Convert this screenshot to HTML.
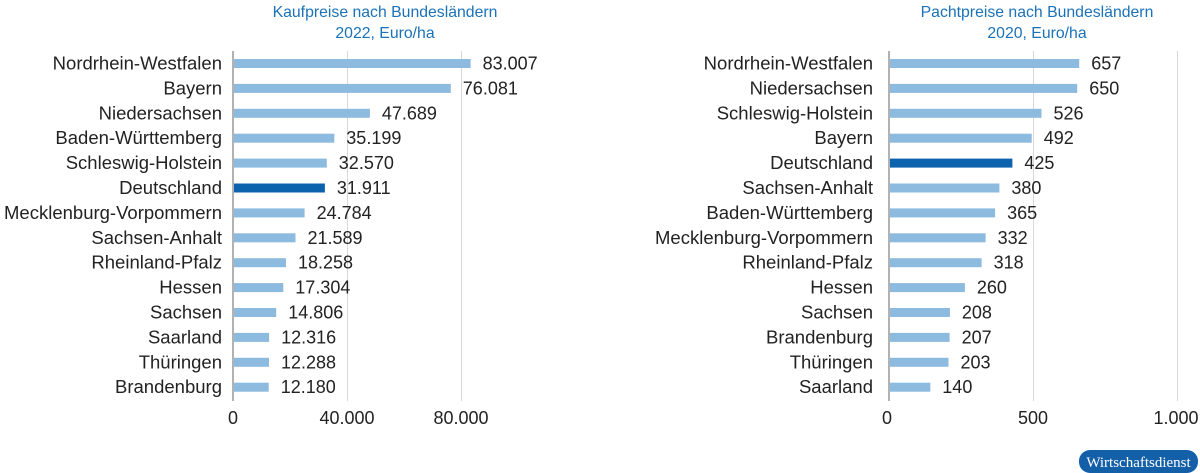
<!DOCTYPE html>
<html><head><meta charset="utf-8"><style>
body{margin:0;background:#fff}
svg{display:block;font-family:"Liberation Sans",sans-serif}
.t{fill:#1a72b8;font-size:15.8px;text-anchor:middle}
.l{fill:#222;font-size:18.5px;text-anchor:end}
.v{fill:#222;font-size:18px}
.x{fill:#222;font-size:18px;text-anchor:middle}
.b{fill:#8dbadf}.d{fill:#0d62ad}
</style></head><body>
<svg width="1200" height="473" viewBox="0 0 1200 473">
<text class="t" x="385" y="17">Kaufpreise nach Bundesländern</text>
<text class="t" x="385" y="38">2022, Euro/ha</text>
<text class="t" x="1037" y="17">Pachtpreise nach Bundesländern</text>
<text class="t" x="1037" y="38">2020, Euro/ha</text>
<g stroke="#d8d8d8" stroke-width="1">
<line x1="347.5" y1="51" x2="347.5" y2="401"/><line x1="461.5" y1="51" x2="461.5" y2="401"/>
<line x1="1033.5" y1="51" x2="1033.5" y2="401"/><line x1="1177.5" y1="51" x2="1177.5" y2="401"/>
</g>
<g stroke="#999" stroke-width="1.5">
<line x1="233" y1="51" x2="233" y2="401"/><line x1="889" y1="51" x2="889" y2="401"/>
</g>
<g>
<text class="l" x="222" y="69.5">Nordrhein-Westfalen</text><rect class="b" x="234" y="59" width="236.6" height="9"/><text class="v" x="482.6" y="69.5">83.007</text>
<text class="l" x="222" y="94.4">Bayern</text><rect class="b" x="234" y="83.9" width="216.8" height="9"/><text class="v" x="462.8" y="94.4">76.081</text>
<text class="l" x="222" y="119.3">Niedersachsen</text><rect class="b" x="234" y="108.8" width="135.9" height="9"/><text class="v" x="381.9" y="119.3">47.689</text>
<text class="l" x="222" y="144.2">Baden-Württemberg</text><rect class="b" x="234" y="133.7" width="100.3" height="9"/><text class="v" x="346.3" y="144.2">35.199</text>
<text class="l" x="222" y="169.1">Schleswig-Holstein</text><rect class="b" x="234" y="158.6" width="92.8" height="9"/><text class="v" x="338.8" y="169.1">32.570</text>
<text class="l" x="222" y="194">Deutschland</text><rect class="d" x="234" y="183.5" width="90.9" height="9"/><text class="v" x="336.9" y="194">31.911</text>
<text class="l" x="222" y="218.9">Mecklenburg-Vorpommern</text><rect class="b" x="234" y="208.4" width="70.6" height="9"/><text class="v" x="316.6" y="218.9">24.784</text>
<text class="l" x="222" y="243.8">Sachsen-Anhalt</text><rect class="b" x="234" y="233.3" width="61.5" height="9"/><text class="v" x="307.5" y="243.8">21.589</text>
<text class="l" x="222" y="268.7">Rheinland-Pfalz</text><rect class="b" x="234" y="258.2" width="52" height="9"/><text class="v" x="298" y="268.7">18.258</text>
<text class="l" x="222" y="293.6">Hessen</text><rect class="b" x="234" y="283.1" width="49.3" height="9"/><text class="v" x="295.3" y="293.6">17.304</text>
<text class="l" x="222" y="318.5">Sachsen</text><rect class="b" x="234" y="308" width="42.2" height="9"/><text class="v" x="288.2" y="318.5">14.806</text>
<text class="l" x="222" y="343.4">Saarland</text><rect class="b" x="234" y="332.9" width="35.1" height="9"/><text class="v" x="281.1" y="343.4">12.316</text>
<text class="l" x="222" y="368.3">Thüringen</text><rect class="b" x="234" y="357.8" width="35" height="9"/><text class="v" x="281" y="368.3">12.288</text>
<text class="l" x="222" y="393.2">Brandenburg</text><rect class="b" x="234" y="382.7" width="34.7" height="9"/><text class="v" x="280.7" y="393.2">12.180</text>
</g>
<g>
<text class="l" x="873" y="69.5">Nordrhein-Westfalen</text><rect class="b" x="890" y="59" width="189.2" height="9"/><text class="v" x="1091.2" y="69.5">657</text>
<text class="l" x="873" y="94.4">Niedersachsen</text><rect class="b" x="890" y="83.9" width="187.2" height="9"/><text class="v" x="1089.2" y="94.4">650</text>
<text class="l" x="873" y="119.3">Schleswig-Holstein</text><rect class="b" x="890" y="108.8" width="151.5" height="9"/><text class="v" x="1053.5" y="119.3">526</text>
<text class="l" x="873" y="144.2">Bayern</text><rect class="b" x="890" y="133.7" width="141.7" height="9"/><text class="v" x="1043.7" y="144.2">492</text>
<text class="l" x="873" y="169.1">Deutschland</text><rect class="d" x="890" y="158.6" width="122.4" height="9"/><text class="v" x="1024.4" y="169.1">425</text>
<text class="l" x="873" y="194">Sachsen-Anhalt</text><rect class="b" x="890" y="183.5" width="109.4" height="9"/><text class="v" x="1011.4" y="194">380</text>
<text class="l" x="873" y="218.9">Baden-Württemberg</text><rect class="b" x="890" y="208.4" width="105.1" height="9"/><text class="v" x="1007.1" y="218.9">365</text>
<text class="l" x="873" y="243.8">Mecklenburg-Vorpommern</text><rect class="b" x="890" y="233.3" width="95.6" height="9"/><text class="v" x="997.6" y="243.8">332</text>
<text class="l" x="873" y="268.7">Rheinland-Pfalz</text><rect class="b" x="890" y="258.2" width="91.6" height="9"/><text class="v" x="993.6" y="268.7">318</text>
<text class="l" x="873" y="293.6">Hessen</text><rect class="b" x="890" y="283.1" width="74.9" height="9"/><text class="v" x="976.9" y="293.6">260</text>
<text class="l" x="873" y="318.5">Sachsen</text><rect class="b" x="890" y="308" width="59.9" height="9"/><text class="v" x="961.9" y="318.5">208</text>
<text class="l" x="873" y="343.4">Brandenburg</text><rect class="b" x="890" y="332.9" width="59.6" height="9"/><text class="v" x="961.6" y="343.4">207</text>
<text class="l" x="873" y="368.3">Thüringen</text><rect class="b" x="890" y="357.8" width="58.5" height="9"/><text class="v" x="960.5" y="368.3">203</text>
<text class="l" x="873" y="393.2">Saarland</text><rect class="b" x="890" y="382.7" width="40.3" height="9"/><text class="v" x="942.3" y="393.2">140</text>
</g>
<text class="x" x="233" y="424">0</text><text class="x" x="347" y="424">40.000</text><text class="x" x="461" y="424">80.000</text>
<text class="x" x="887" y="424">0</text><text class="x" x="1033" y="424">500</text><text class="x" x="1176" y="424">1.000</text>
<rect x="1079" y="450" width="119" height="23" rx="11" fill="#1460a8"/>
<text x="1138.5" y="467" fill="#fff" font-family="Liberation Serif,serif" font-size="15" text-anchor="middle">Wirtschaftsdienst</text>
</svg>
</body></html>
